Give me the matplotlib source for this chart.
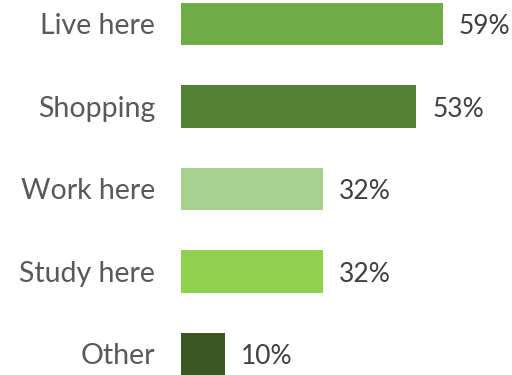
import matplotlib
matplotlib.use("Agg")
import matplotlib.pyplot as plt

categories = ["Live here", "Shopping", "Work here", "Study here", "Other"]
values = [59, 53, 32, 32, 10]
colors = ["#70AD47", "#548235", "#A9D18E", "#92D050", "#3B5724"]

fig = plt.figure(figsize=(5.12, 3.75), dpi=100)
ax = fig.add_axes([181/512, 0, 1 - 181/512, 1])
y = list(range(len(categories)))
ax.barh(y, values, height=0.51, color=colors)
ax.set_ylim(4 + 21/82.5, -24/82.5)
ax.set_xlim(0, (512 - 181) / 4.44)
for s in ax.spines.values():
    s.set_visible(False)
ax.set_xticks([])
ax.set_yticks(y)
ax.set_yticklabels(categories, fontsize=20.5, color="#595959", family="Lato")
ax.tick_params(axis="y", length=0, pad=18.5)
for yi, v in zip(y, values):
    ax.annotate(f"{v}%", (v, yi), xytext=(11.5, -2), textcoords="offset points",
                va="center", ha="left", fontsize=19, color="#404040", family="Lato")
fig.savefig("out.png", dpi=100)
